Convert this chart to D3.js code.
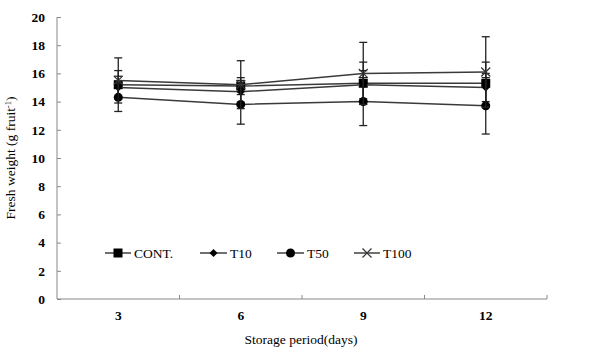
<!DOCTYPE html>
<html><head><meta charset="utf-8">
<script src="https://cdn.jsdelivr.net/npm/d3@7"></script>
<style>body{margin:0;background:#fff}svg{display:block}text{font-family:"Liberation Serif","Times New Roman",serif;fill:#000}</style>
</head><body><svg id="c" width="596" height="358"></svg>
<script>
const categories = ["3","6","9","12"];
const yTicks = [0,2,4,6,8,10,12,14,16,18,20];
const seriesNames = ["CONT.","T10","T50","T100"];
const contVals = [15.2,15.1,15.3,15.3];
const contErr  = [1.0,0.6,1.5,1.5];
const t10Vals  = [15.0,14.7,15.2,15.0];
const t10Err   = [0.8,0.8,1.0,1.0];
const t50Vals  = [14.3,13.8,14.0,13.7];
const t50Err   = [1.0,1.4,1.7,2.0];
const t100Vals = [15.5,15.2,16.0,16.1];
const t100Err  = [1.6,1.7,2.2,2.5];

const series = [
  {name:seriesNames[0], vals:contVals, err:contErr, marker:"square"},
  {name:seriesNames[1], vals:t10Vals, err:t10Err, marker:"diamond"},
  {name:seriesNames[2], vals:t50Vals, err:t50Err, marker:"circle"},
  {name:seriesNames[3], vals:t100Vals, err:t100Err, marker:"x"}
];

const svg = d3.select("#c");
const L=57, R=547, T=17, B=299;
const x = d3.scaleBand().domain(categories).range([L,R]);
const y = d3.scaleLinear().domain([0,20]).range([B,T]);
const axisCol="#888";
const fs=13.5;

// y axis
const ya = svg.append("g").attr("transform",`translate(${L},0)`)
  .call(d3.axisLeft(y).tickValues(yTicks).tickSize(-4).tickPadding(12).tickFormat(d3.format("d")));
ya.select(".domain").attr("stroke",axisCol).attr("d",`M0,${T}V${B}`);
ya.selectAll(".tick line").attr("stroke",axisCol);
ya.selectAll("text").attr("font-size",fs).attr("font-family","Liberation Serif").attr("font-weight","bold").attr("fill","#222");

// x axis
const xa = svg.append("g").attr("transform",`translate(0,${B})`)
  .call(d3.axisBottom(x).tickSize(0).tickPadding(9));
xa.select(".domain").attr("stroke",axisCol).attr("d",`M${L},0H${R}`);
xa.selectAll(".tick line").remove();
xa.selectAll("text").attr("font-size",fs).attr("font-family","Liberation Serif").attr("font-weight","bold").attr("fill","#222").attr("dy","0.9em");
// boundary ticks (inward)
const bounds = categories.map(c=>x(c)).concat([R]).slice(1);
svg.append("g").selectAll("line").data(bounds).join("line")
  .attr("x1",d=>d).attr("x2",d=>d).attr("y1",B).attr("y2",B-4).attr("stroke",axisCol);

// axis titles
svg.append("text").attr("x",(L+R)/2-1).attr("y",344).attr("text-anchor","middle").attr("font-size",fs).text("Storage period(days)");
const yl = svg.append("text").attr("transform",`translate(15,${(T+B)/2}) rotate(-90)`).attr("text-anchor","middle").attr("font-size",fs);
yl.append("tspan").text("Fresh weight (g fruit");
yl.append("tspan").attr("dy",-4).attr("font-size",8.5).text("-1");
yl.append("tspan").attr("dy",4).text(")");

const cx = c => x(c)+x.bandwidth()/2;
const lineCol="#3a3a3a";

function marker(g, type, px, py){
  if(type==="square") g.append("rect").attr("x",px-4.5).attr("y",py-4.5).attr("width",9).attr("height",9).attr("fill","#000");
  else if(type==="diamond") g.append("path").attr("d",`M${px},${py-4}L${px+4},${py}L${px},${py+4}L${px-4},${py}Z`).attr("fill","#000");
  else if(type==="circle") g.append("circle").attr("cx",px).attr("cy",py).attr("r",4.5).attr("fill","#000");
  else g.append("path").attr("d",`M${px-4.5},${py-4.5}L${px+4.5},${py+4.5}M${px-4.5},${py+4.5}L${px+4.5},${py-4.5}`).attr("stroke","#333").attr("stroke-width",1.2).attr("fill","none");
}

const line = d3.line().x((d,i)=>cx(categories[i])).y(d=>y(d));
series.forEach(s=>{
  const g = svg.append("g");
  s.vals.forEach((v,i)=>{
    const px=cx(categories[i]);
    g.append("line").attr("x1",px).attr("x2",px).attr("y1",y(v+s.err[i])).attr("y2",y(v-s.err[i])).attr("stroke","#222").attr("stroke-width",1.3);
    [v+s.err[i], v-s.err[i]].forEach(e=>g.append("line").attr("x1",px-4).attr("x2",px+4).attr("y1",y(e)).attr("y2",y(e)).attr("stroke","#222").attr("stroke-width",1.3));
  });
  g.append("path").attr("d",line(s.vals)).attr("fill","none").attr("stroke",lineCol).attr("stroke-width",1.5);
  s.vals.forEach((v,i)=>marker(g,s.marker,cx(categories[i]),y(v)));
});

// legend
const legX=[105,200,277,354], legTx=[134,230,307,383];
series.forEach((s,i)=>{
  const g=svg.append("g");
  const ly=253;
  g.append("line").attr("x1",legX[i]).attr("x2",legTx[i]-3).attr("y1",ly).attr("y2",ly).attr("stroke","#222").attr("stroke-width",1.3);
  marker(g,s.marker,(legX[i]+legTx[i]-3)/2,ly);
  g.append("text").attr("x",legTx[i]).attr("y",ly+4.5).attr("font-size",fs).text(s.name);
});
</script></body></html>
